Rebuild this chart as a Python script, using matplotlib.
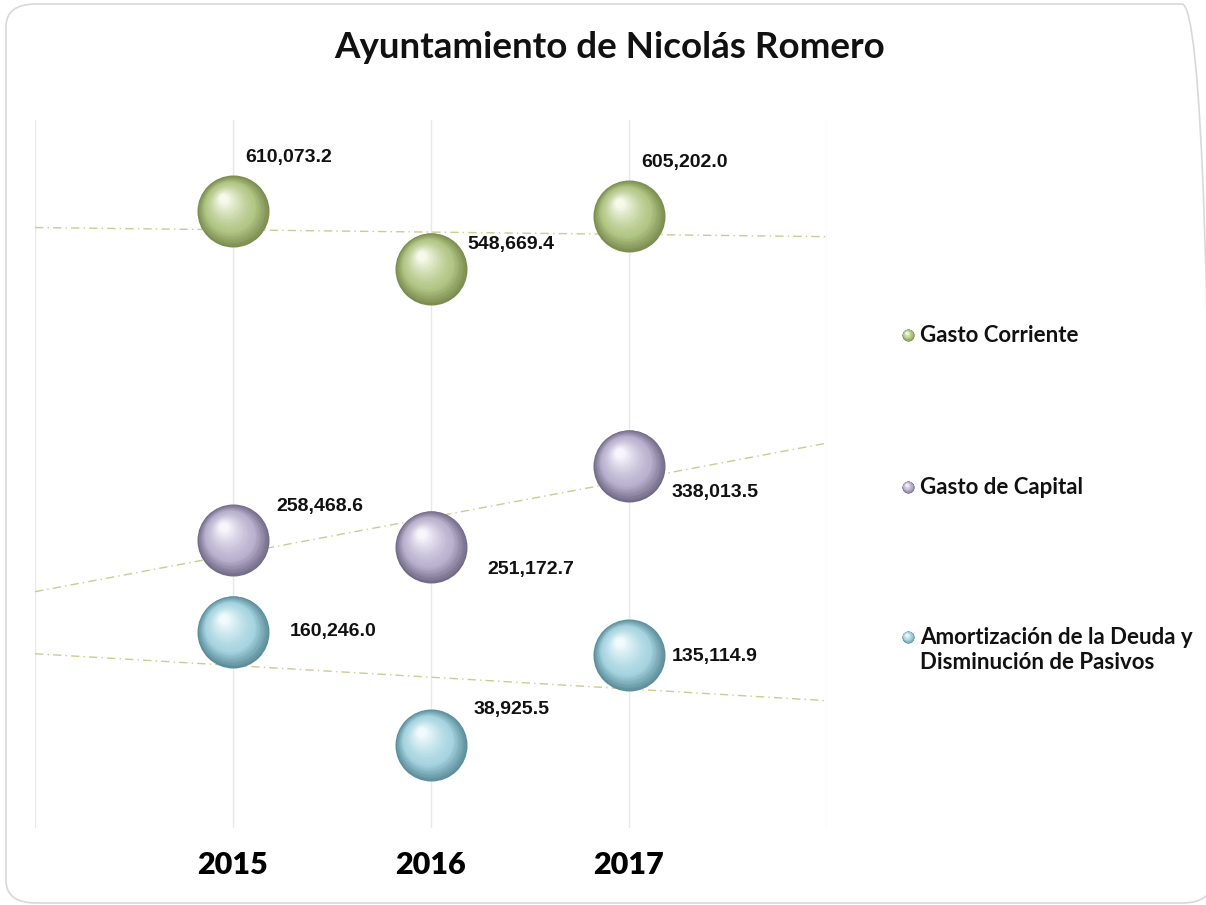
import numpy as np
import matplotlib
matplotlib.use("Agg")
import matplotlib.pyplot as plt
from matplotlib.colors import to_rgb
from matplotlib.transforms import offset_copy
from matplotlib.patches import FancyBboxPatch

# --- data -------------------------------------------------------------
years = [2015, 2016, 2017]
gasto_corriente = [610073.2, 548669.4, 605202.0]
gasto_capital = [258468.6, 251172.7, 338013.5]
amortizacion = [160246.0, 38925.5, 135114.9]
series_names = ["Gasto Corriente", "Gasto de Capital",
                "Amortización de la Deuda y\nDisminución de Pasivos"]
title = "Ayuntamiento de Nicolás Romero"

# sphere shading per series: (edge, body, highlight)
SHADES = [
    ("#7b8c4e", "#b3c787", "#f6faea"),
    ("#726b88", "#bab2cf", "#f8f6fd"),
    ("#5b8c99", "#a6d4e0", "#f1fbfe"),
]
# hand-placed label offsets (pixels, left edge / vertical centre)
LABEL_OFFSETS = [
    [(12, 54), (36, 24), (12, 54)],
    [(43, 33), (56, -23), (43, -27)],
    [(57, 0), (43, 35), (43, -1)],
]

W, H, DPI = 1206, 905, 100
fig = plt.figure(figsize=(W / DPI, H / DPI), dpi=DPI)
fig.patch.set_facecolor("white")

TITLE_FONT = ["Lato", "DejaVu Sans"]
LABEL_FONT = ["Liberation Sans", "DejaVu Sans"]

# rounded frame around the chart (right side runs off the picture)
frame = FancyBboxPatch((6 / W, 2 / H), 1206 / W, 899 / H,
                       boxstyle="round,pad=0,rounding_size=0.025",
                       transform=fig.transFigure, facecolor="none",
                       edgecolor="#d8d8d8", linewidth=1.2)
fig.patches.append(frame)

ax = fig.add_axes([35 / W, 1 - 828 / H, 792 / W, 708 / H])
ax.set_xlim(2014, 2018)
ax.set_ylim(-50000, 708000)
for s in ax.spines.values():
    s.set_visible(False)
ax.set_xticks([2014, 2015, 2016, 2017, 2018])
ax.set_yticks([])
ax.tick_params(length=0, labelbottom=False)
ax.grid(True, axis="x", color="#e8e8e8", linewidth=1.0)
ax.set_axisbelow(True)


def mix(c1, c2, t):
    a, b = np.array(to_rgb(c1)), np.array(to_rgb(c2))
    return tuple(a + (b - a) * t)


def draw_sphere(axis, x, y, shade, diam_px, zorder=3):
    edge, body, light = shade
    n = 40
    for i in range(n):
        t = i / (n - 1)
        r = diam_px / 2 * (1 - 0.88 * t)
        shift = (diam_px / 2 - r) * 0.55
        if t < 0.35:
            c = mix(edge, body, t / 0.35)
        else:
            c = mix(body, light, ((t - 0.35) / 0.65) ** 1.3)
        tr = offset_copy(axis.transData, fig=fig, x=-shift * 0.55,
                         y=shift * 0.75, units="dots")
        axis.scatter([x], [y], s=(2 * r * 72 / DPI) ** 2, color=c,
                     transform=tr, linewidths=0, zorder=zorder + i * 0.001)


all_series = [gasto_corriente, gasto_capital, amortizacion]
xline = np.array([2014, 2018])
for k, vals in enumerate(all_series):
    # linear trend line across the whole plot
    coef = np.polyfit(years, vals, 1)
    ax.plot(xline, np.polyval(coef, xline), linestyle=(0, (6, 3, 1, 3)),
            color="#cbcb93", linewidth=1.0, zorder=2)
    for j, (x, v) in enumerate(zip(years, vals)):
        draw_sphere(ax, x, v, SHADES[k], 72)
        dx, dy = LABEL_OFFSETS[k][j]
        ax.annotate(f"{v:,.1f}", (x, v), xytext=(dx, dy),
                    textcoords="offset pixels", ha="left", va="center",
                    fontsize=14, fontweight="bold", family=LABEL_FONT,
                    color="#111111", zorder=10)

# year labels under the gridlines
for x in years:
    ax.annotate(str(x), (x, 0), xycoords=("data", "axes fraction"),
                xytext=(0, -37), textcoords="offset pixels", ha="center",
                va="center", fontsize=22, fontweight="heavy", family=TITLE_FONT)

fig.text(610 / W, 1 - 48 / H, title, ha="center", va="center", fontsize=26.5,
         fontweight="bold", family=TITLE_FONT, color="#111111")

# legend, drawn by hand on a pixel-space overlay
lax = fig.add_axes([0, 0, 1, 1], facecolor="none")
lax.set_xlim(0, W)
lax.set_ylim(H, 0)
lax.axis("off")
legend_y = [335, 487, 650]
for k, name in enumerate(series_names):
    mark_y = legend_y[k] if k < 2 else 637
    draw_sphere(lax, 908, mark_y, SHADES[k], 12)
    lax.text(920, legend_y[k], name, ha="left", va="center", fontsize=16,
             fontweight="bold", family=TITLE_FONT, color="#111111",
             linespacing=1.2)

fig.savefig("out.png", dpi=DPI, facecolor="white")
